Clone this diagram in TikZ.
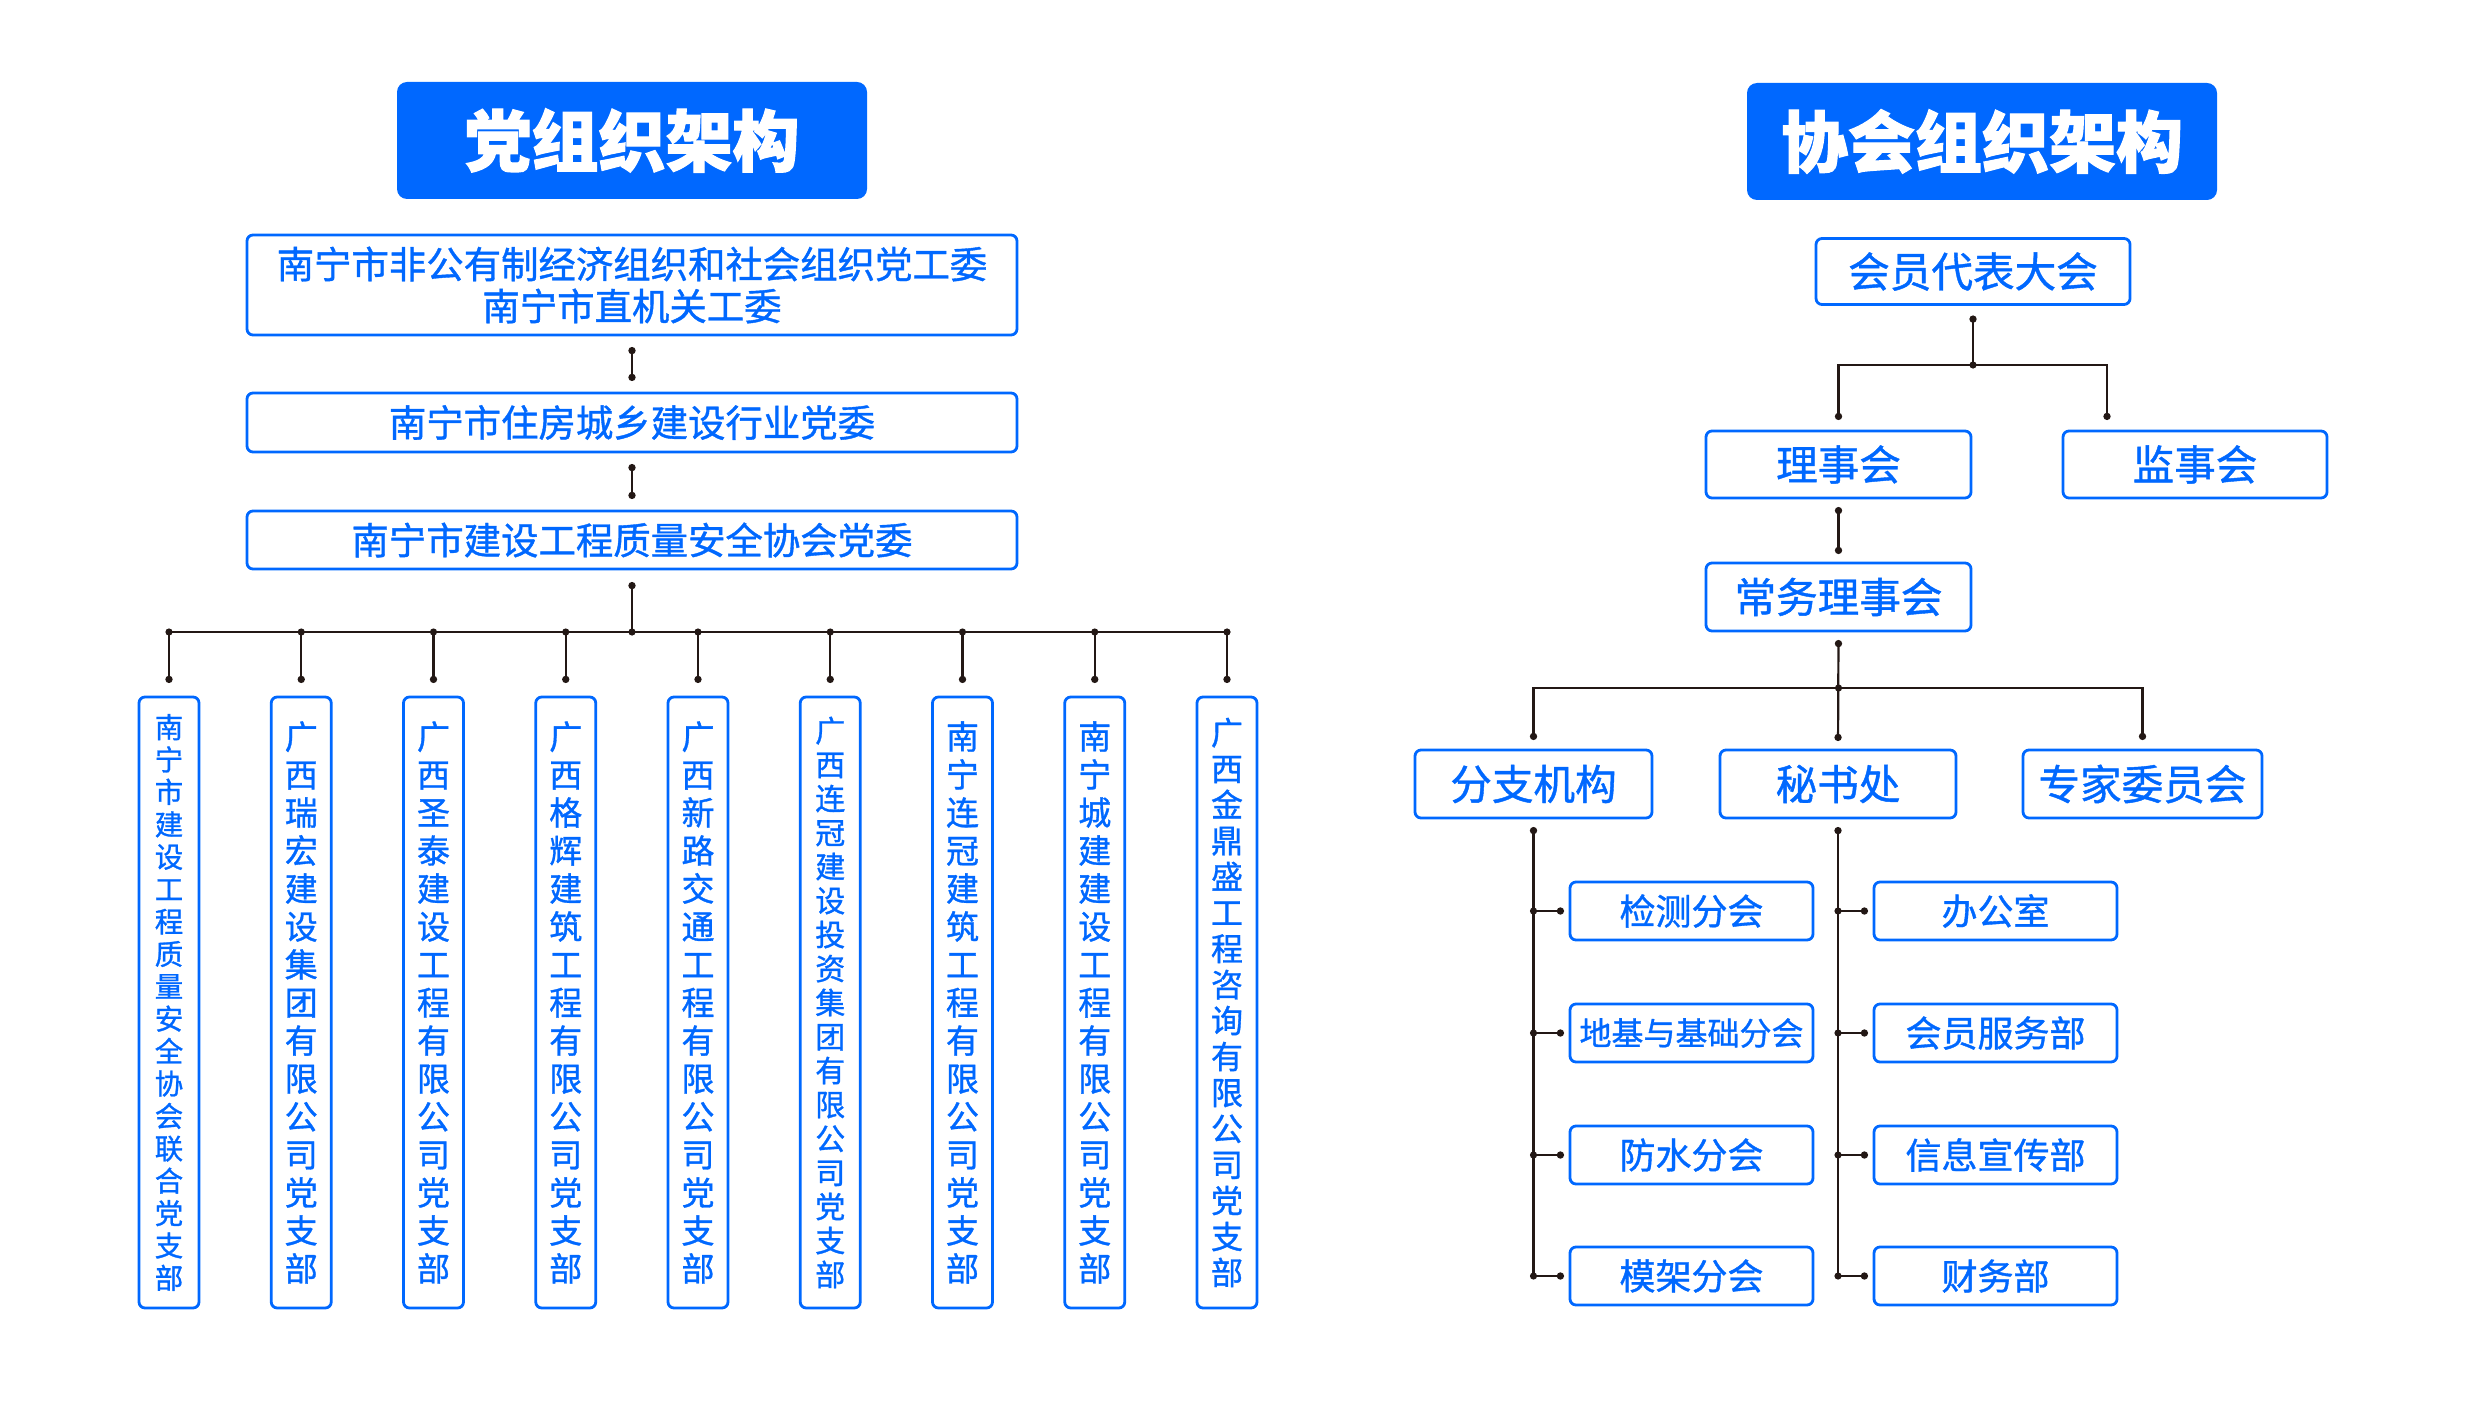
\documentclass[tikz,border=0pt]{standalone}
\usepackage{fontspec}
\setmainfont{Noto Sans CJK SC}[FakeBold=1.0, BoldFeatures={FakeBold=1.6}]
\XeTeXlinebreaklocale "zh"
\XeTeXlinebreakskip=0pt plus 1pt
\usetikzlibrary{arrows.meta}

\definecolor{orgblue}{HTML}{0068FF}
\definecolor{linedark}{HTML}{231815}

\tikzset{
  headbox/.style={fill=orgblue, rounded corners=5pt, text=white, inner sep=0pt,
    font=\fontsize{33.5}{36}\selectfont\bfseries, minimum width=235pt, minimum height=58.5pt},
  orgbox/.style={draw=orgblue, line width=1.4pt, rounded corners=3pt, text=orgblue,
    inner sep=0pt, align=center},
  vertbox/.style={orgbox, minimum width=30pt, minimum height=305.5pt, text width=20pt},
  wire/.style={draw=linedark, line width=1.1pt},
  link/.style={wire, {Circle[length=3.6pt]}-{Circle[length=3.6pt]}, shorten <=#1, shorten >=#1},
  link/.default=5.3pt,
  linkstart/.style={wire, {Circle[length=3.6pt]}-, shorten <=#1},
  linkstart/.default=5.3pt,
  linkend/.style={wire, -{Circle[length=3.6pt]}, shorten >=#1},
  linkend/.default=4.5pt,
}
\newcommand{\jdot}[1]{\fill[linedark] (#1) circle (1.8pt)}

\begin{document}
\begin{tikzpicture}[x=0.5pt, y=-0.5pt]
    \useasboundingbox (0,0) rectangle (2472,1417);

    % Party organisation
    \node[headbox] (ptitle) at (632,140.5) {党组织架构};
    \node[orgbox, font=\fontsize{18.7}{21}\selectfont, minimum width=385pt, minimum height=50pt]
      (pc1) at (632,285) {南宁市非公有制经济组织和社会组织党工委\\南宁市直机关工委};
    \node[orgbox, font=\fontsize{18.7}{21}\selectfont, minimum width=385pt, minimum height=29.5pt]
      (pc2) at (632,422.5) {南宁市住房城乡建设行业党委};
    \node[orgbox, font=\fontsize{18.7}{21}\selectfont, minimum width=385pt, minimum height=29pt]
      (pc3) at (632,540) {南宁市建设工程质量安全协会党委};

    % Party branches
    \foreach \i/\fs/\bs/\txt in {
        1/14.2/16.2/南宁市建设工程质量安全协会联合党支部,
        2/16.5/19/广西瑞宏建设集团有限公司党支部,
        3/16.5/19/广西圣泰建设工程有限公司党支部,
        4/16.5/19/广西格辉建筑工程有限公司党支部,
        5/16.5/19/广西新路交通工程有限公司党支部,
        6/15/17/广西连冠建设投资集团有限公司党支部,
        7/16.5/19/南宁连冠建筑工程有限公司党支部,
        8/16.5/19/南宁城建建设工程有限公司党支部,
        9/16/18/广西金鼎盛工程咨询有限公司党支部} {
      \node[vertbox, font=\fontsize{\fs}{\bs}\selectfont] (br\i) at ({169+132.25*(\i-1)},1002.5) {\txt};
    }

    % Party connectors
    \draw[link=5.3pt] (pc1) -- (pc2);
    \draw[link=5.3pt] (pc2) -- (pc3);
    \coordinate (pbus) at (632,632);
    \draw[linkstart=5.8pt] (pc3.south) -- (pbus);
    \jdot{pbus};
    \draw[wire] (br1.north |- pbus) -- (br9.north |- pbus);
    \foreach \i in {1,...,9} {
      \jdot{br\i.north |- pbus};
      \draw[linkend=6.3pt] (br\i.north |- pbus) -- (br\i.north);
    }

    % Association organisation
    \node[headbox] (atitle) at (1982,141.5) {协会组织架构};
    \node[orgbox, font=\fontsize{20.8}{23}\selectfont, minimum width=157pt, minimum height=33pt]
      (congress) at (1973,271.5) {会员代表大会};
    \node[orgbox, font=\fontsize{20.8}{23}\selectfont, minimum width=132.5pt, minimum height=33.5pt]
      (council) at (1838.5,464.5) {理事会};
    \node[orgbox, font=\fontsize{20.8}{23}\selectfont, minimum width=132pt, minimum height=33.5pt]
      (supervisors) at (2195,464.5) {监事会};
    \node[orgbox, font=\fontsize{20.8}{23}\selectfont, minimum width=132.5pt, minimum height=34pt]
      (standing) at (1838.5,597) {常务理事会};
    \node[orgbox, font=\fontsize{20.8}{23}\selectfont, minimum width=118.5pt, minimum height=34pt]
      (branches) at (1533.5,784) {分支机构};
    \node[orgbox, font=\fontsize{20.8}{23}\selectfont, minimum width=118pt, minimum height=34pt]
      (secretariat) at (1838,784) {秘书处};
    \node[orgbox, font=\fontsize{20.8}{23}\selectfont, minimum width=119.5pt, minimum height=34pt]
      (experts) at (2142.5,784) {专家委员会};

    % Sub-units
    \foreach \j/\y/\fs/\txt in {1/911/18/检测分会, 2/1033/16/地基与基础分会, 3/1155/18/防水分会, 4/1276/18/模架分会} {
      \node[orgbox, font=\fontsize{\fs}{20}\selectfont, minimum width=121.5pt, minimum height=29pt]
        (fz\j) at (1691.5,\y) {\txt};
    }
    \foreach \j/\y/\txt in {1/911/办公室, 2/1033/会员服务部, 3/1155/信息宣传部, 4/1276/财务部} {
      \node[orgbox, font=\fontsize{18}{20}\selectfont, minimum width=121.5pt, minimum height=29pt]
        (ms\j) at (1995.5,\y) {\txt};
    }

    % Association connectors
    \coordinate (cj) at (1973,365);
    \draw[linkstart=4.8pt] (congress.south) -- (cj);
    \jdot{cj};
    \draw[linkend=4.8pt] (cj) -| (council.north);
    \draw[linkend=4.8pt] (cj) -| ([xshift=-44pt]supervisors.north);
    \draw[link=3.8pt] (council) -- (standing);
    \coordinate (sj) at (1838.5,688);
    \draw[link=3.8pt] (standing.south) -- (secretariat.north);
    \jdot{sj};
    \draw[linkend=4.3pt] (sj) -| (branches.north);
    \draw[linkend=4.3pt] (sj) -| (experts.north);

    \draw[linkstart=3.8pt] (branches.south) -- (branches.south |- fz4.west);
    \draw[linkstart=3.8pt] (secretariat.south) -- (secretariat.south |- ms4.west);
    \foreach \j in {1,...,4} {
      \jdot{branches.south |- fz\j.west};
      \draw[linkend=2.3pt] (branches.south |- fz\j.west) -- (fz\j.west);
      \jdot{secretariat.south |- ms\j.west};
      \draw[linkend=2.3pt] (secretariat.south |- ms\j.west) -- (ms\j.west);
    }
\end{tikzpicture}
\end{document}
